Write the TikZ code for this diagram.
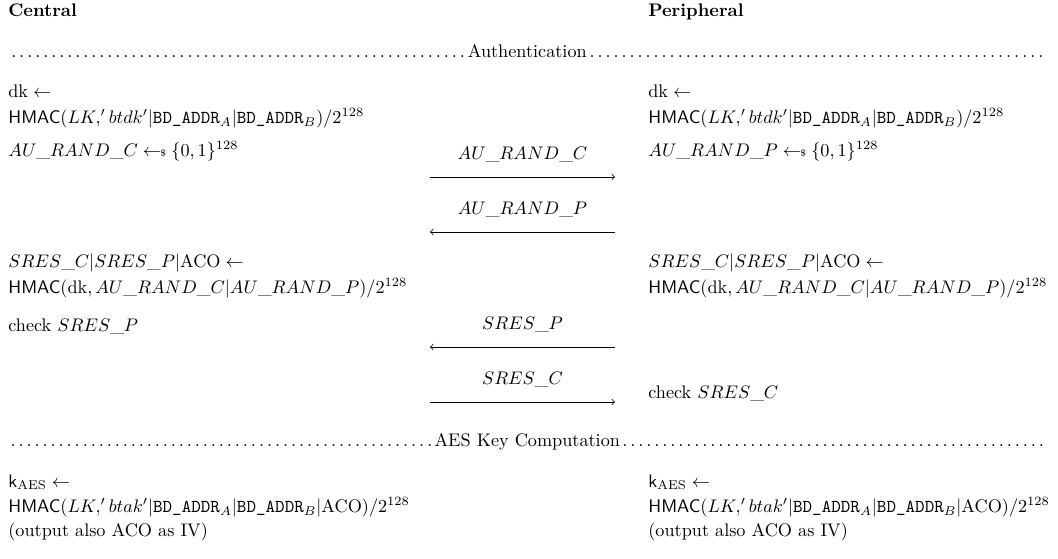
\documentclass[tikz,border=0pt]{standalone}
\usepackage{amsmath}
\usepackage{amssymb}
\usepackage{tikz}
\usetikzlibrary{positioning,arrows.meta}

% sampling arrow and the recurring HMAC inputs
\newcommand{\smpl}{\mathrel{\leftarrow\!\!\mbox{\tiny\$}}}
\newcommand{\bdaddr}[1]{\texttt{BD\_ADDR}_{#1}}

\begin{document}
\begin{tikzpicture}[
  x=0.0193cm, y=-0.0193cm,
  >=to,
  party/.style ={font=\bfseries,anchor=base west,inner sep=0pt},
  txt/.style   ={anchor=base west,inner sep=0pt},
  phase/.style ={anchor=base west,inner sep=0pt},
  msg/.style   ={->,thin},
  msglab/.style={above=8pt,inner sep=0pt},
]
\useasboundingbox (0,0) rectangle (1058,558);

% =====================================================================
% PARTIES
% =====================================================================
\node[party] (cHead) at (8,16)   {Central};
\node[party] (pHead) at (648,16) {Peripheral};

\node[phase] (authRule) at (8,57)
  {\hbox to 570pt{\dotfill Authentication\dotfill}};

% =====================================================================
% AUTHENTICATION -- CENTRAL SIDE
% =====================================================================
\node[txt] (cDk)    at (8,97)  {$\mathrm{dk} \leftarrow$};
\node[txt] (cDkMac) at (8,123)
  {$\mathsf{HMAC}(LK,'btdk'|\bdaddr{A}|\bdaddr{B})/2^{128}$};
\node[txt] (cRand)  at (8,156) {$AU\_RAND\_C \smpl \{0,1\}^{128}$};

\node[txt] (cSres)    at (8,267) {$SRES\_C|SRES\_P|\mathrm{ACO} \leftarrow$};
\node[txt] (cSresMac) at (8,293)
  {$\mathsf{HMAC}(\mathrm{dk}, AU\_RAND\_C|AU\_RAND\_P)/2^{128}$};
\node[txt] (cCheck)   at (8,331) {check $SRES\_P$};

% =====================================================================
% AUTHENTICATION -- PERIPHERAL SIDE
% =====================================================================
\node[txt] (pDk)    at (648,97)  {$\mathrm{dk} \leftarrow$};
\node[txt] (pDkMac) at (648,123)
  {$\mathsf{HMAC}(LK,'btdk'|\bdaddr{A}|\bdaddr{B})/2^{128}$};
\node[txt] (pRand)  at (648,156) {$AU\_RAND\_P \smpl \{0,1\}^{128}$};

\node[txt] (pSres)    at (648,267) {$SRES\_C|SRES\_P|\mathrm{ACO} \leftarrow$};
\node[txt] (pSresMac) at (648,293)
  {$\mathsf{HMAC}(\mathrm{dk}, AU\_RAND\_C|AU\_RAND\_P)/2^{128}$};
\node[txt] (pCheck)   at (648,398) {check $SRES\_C$};

% =====================================================================
% MESSAGES
% =====================================================================
\coordinate (randCl) at (430,177);  \coordinate (randCr) at (615,177);
\coordinate (randPl) at (430,232);  \coordinate (randPr) at (615,232);
\coordinate (sresPl) at (430,347);  \coordinate (sresPr) at (615,347);
\coordinate (sresCl) at (430,402);  \coordinate (sresCr) at (615,402);

\draw[msg] (randCl) -- node[msglab] {$AU\_RAND\_C$} (randCr);
\draw[msg] (randPr) -- node[msglab] {$AU\_RAND\_P$} (randPl);
\draw[msg] (sresPr) -- node[msglab] {$SRES\_P$} (sresPl);
\draw[msg] (sresCl) -- node[msglab] {$SRES\_C$} (sresCr);

% =====================================================================
% AES KEY COMPUTATION
% =====================================================================
\node[phase] (aesRule) at (8,446)
  {\hbox to 570pt{\dotfill AES Key Computation\dotfill}};

\node[txt] (cKey)    at (8,487) {$\mathsf{k}_{\mathrm{AES}} \leftarrow$};
\node[txt] (cKeyMac) at (8,512)
  {$\mathsf{HMAC}(LK,'btak'|\bdaddr{A}|\bdaddr{B}|\mathrm{ACO})/2^{128}$};
\node[txt] (cKeyIv)  at (8,536) {(output also ACO as IV)};

\node[txt] (pKey)    at (648,487) {$\mathsf{k}_{\mathrm{AES}} \leftarrow$};
\node[txt] (pKeyMac) at (648,512)
  {$\mathsf{HMAC}(LK,'btak'|\bdaddr{A}|\bdaddr{B}|\mathrm{ACO})/2^{128}$};
\node[txt] (pKeyIv)  at (648,536) {(output also ACO as IV)};

\end{tikzpicture}
\end{document}
